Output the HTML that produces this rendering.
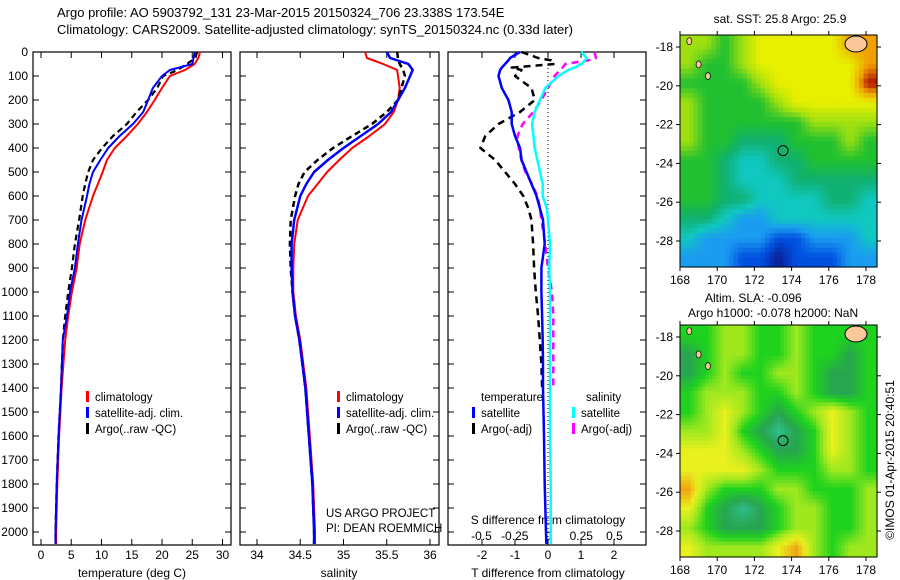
<!DOCTYPE html>
<html><head><meta charset="utf-8"><style>
body{margin:0;background:#fff;}
svg{display:block;font-family:"Liberation Sans",sans-serif;}
text{fill:#000;}
</style></head><body>
<svg id="s" width="900" height="580" viewBox="0 0 900 580" xmlns="http://www.w3.org/2000/svg">
<text x="57" y="17" font-size="13">Argo profile: AO 5903792_131 23-Mar-2015 20150324_706 23.338S 173.54E</text>
<text x="57" y="34" font-size="13">Climatology: CARS2009. Satellite-adjusted climatology: synTS_20150324.nc (0.33d later)</text>
<g id="g"></g>
</svg>
<script>
const depths=[0,25,50,75,100,150,200,250,300,350,400,450,500,550,600,700,800,900,1000,1100,1200,1400,1600,1800,2000,2050];
const tClim=[26.3,26.0,25.4,23.8,21.3,20.0,18.8,17.5,16.0,14.2,12.2,10.9,10.2,9.4,8.6,7.3,6.4,5.9,5.1,4.5,4.0,3.4,3.0,2.7,2.5,2.5];
const tSat=[25.4,25.2,25.0,21.3,20.0,18.5,17.7,16.9,15.2,13.0,11.1,9.8,8.6,8.0,7.6,6.7,6.1,5.6,4.8,4.3,3.6,3.3,2.9,2.6,2.4,2.4];
const tArgo=[25.8,25.5,24.1,22.6,20.2,19.2,17.7,15.8,14.2,11.9,10.1,8.6,7.8,7.3,6.9,6.3,5.6,5.1,4.5,4.0,3.6,3.3,2.9,2.6,2.4,2.4];
const sClim=[35.25,35.27,35.46,35.62,35.63,35.65,35.63,35.58,35.48,35.3,35.1,34.95,34.81,34.7,34.59,34.47,34.43,34.42,34.42,34.45,34.5,34.57,34.61,34.65,34.67,34.67];
const sSat=[35.5,35.54,35.75,35.8,35.77,35.71,35.63,35.55,35.4,35.2,35.0,34.82,34.66,34.57,34.5,34.43,34.4,34.4,34.41,34.44,34.49,34.56,34.6,34.64,34.66,34.66];
const sArgo=[35.62,35.63,35.65,35.69,35.71,35.67,35.63,35.5,35.33,35.1,34.88,34.7,34.55,34.48,34.44,34.39,34.38,34.39,34.41,34.44,34.49,34.56,34.6,34.64,34.66,34.66];
const dDepths=[0,25,35,50,65,75,100,150,200,250,300,350,400,450,500,550,600,650,700,800,900,1000,1100,1200,1300,1400];
const dTSat=[-0.85,-1.15,-1.2,-1.3,-1.4,-1.45,-1.5,-1.4,-1.2,-1.1,-1.1,-1.0,-0.85,-0.8,-0.65,-0.5,-0.35,-0.25,-0.15,-0.1,-0.2,-0.2,-0.18,-0.16,-0.15,-0.15];
const dTArgo=[-0.8,-0.3,0.1,0.2,-1.1,-0.8,-1.0,-0.5,-0.4,-0.85,-1.5,-1.9,-2.05,-1.6,-1.3,-1.0,-0.75,-0.6,-0.5,-0.45,-0.42,-0.37,-0.3,-0.25,-0.2,-0.18];
const dSSat=[0.25,0.29,0.28,0.25,0.2,0.15,0.08,-0.02,-0.06,-0.1,-0.12,-0.11,-0.1,-0.08,-0.06,-0.04,-0.04,-0.01,0,0.015,0.01,0.015,0.015,0.015,0.015,0.015];
const dSArgo=[0.35,0.36,0.3,0.13,0.11,0.09,0.05,0,-0.05,-0.11,-0.19,-0.23,-0.22,-0.2,-0.17,-0.12,-0.08,-0.06,-0.05,-0.02,0,0.03,0.04,0.04,0.04,0.04];
const deepDepths=[1400,1600,1800,2000,2050];
const dTSatDeep=[-0.15,-0.12,-0.1,-0.06,-0.05];
const dSSatDeep=[0.015,0.015,0.02,0.02,0.02];
const depthTicks=[0,100,200,300,400,500,600,700,800,900,1000,1100,1200,1300,1400,1500,1600,1700,1800,1900,2000];
const tTicks=[0,5,10,15,20,25,30];
const sTicks=[34,34.5,35,35.5,36];
const dtTicks=[-2,-1,0,1,2];
const dsTicks=[-0.5,-0.25,0,0.25,0.5];
const sstGrid=[
[6,6,5,6,7,7,7,7,7,8,8],
[6,5,5,6,7,7,7,7,7,7,8],
[5,5,5,5,6,7,7,7,7,7,9],
[6,5,5,5,5,6,7,7,7,7,7],
[6,5,5,5,5,5,5,6,6,6,6],
[6,5,5,4,4,4,5,5,5,6,5],
[5,5,4,3,3,4,4,5,5,5,5],
[5,5,4,3,3,3,4,4,4,4,4],
[5,5,4,4,3,3,3,3,4,4,3],
[4,4,3,2,2,3,3,3,3,3,3],
[3,2,2,2,2,1,1,2,2,2,3],
[2,2,2,1,1,0,1,1,1,2,2]];
const slaGrid=[
[5,5,6,6,5,5,6,5,5,5,5],
[4,5,6,6,5,5,6,5,5,4,5],
[4,5,6,5,5,6,6,5,4,4,5],
[5,6,6,6,5,5,6,5,4,4,5],
[5,6,7,6,5,4,5,6,7,6,5],
[6,6,7,5,4,3,4,5,7,6,5],
[7,7,7,6,5,4,4,5,7,6,5],
[7,7,7,7,6,5,5,5,6,6,5],
[8,6,5,5,5,6,6,5,5,5,6],
[7,5,4,3,4,5,6,6,5,5,6],
[6,5,4,4,4,5,6,6,5,5,6],
[7,6,6,6,6,7,8,6,5,6,6]];
const lonTicks=[168,170,172,174,176,178];
const latTicks=[-18,-20,-22,-24,-26,-28];

const NS="http://www.w3.org/2000/svg";
const G=document.getElementById('g');
function mk(tag,at,parent){const e=document.createElementNS(NS,tag);for(const k in at)e.setAttribute(k,at[k]);(parent||G).appendChild(e);return e;}
function txt(x,y,s,size,anchor){const t=mk('text',{x:x,y:y,'font-size':size||12,'text-anchor':anchor||'start'});t.textContent=s;return t;}
const Y=d=>52+d*0.24;
const TOP=52,BOT=545;
const panels=[{l:33,r:231,x:v=>41+v*6.05,name:'temperature'},{l:240,r:439,x:v=>257+(v-34)*86.5,name:'salinity'},{l:448,r:646,x:v=>548+v*33,name:'tdiff'}];
const xs=v=>548+v*133;

function frame(p){
  const r=mk('rect',{x:p.l,y:TOP,width:p.r-p.l,height:BOT-TOP,fill:'none',stroke:'#000','stroke-width':1.2});
  
  
  depthTicks.forEach(d=>{
    const a=mk('line',{x1:p.l,x2:p.l+6,y1:Y(d),y2:Y(d),stroke:'#000'});
    
    
    const b=mk('line',{x1:p.r-6,x2:p.r,y1:Y(d),y2:Y(d),stroke:'#000'});
    
    
  });
}
panels.forEach(frame);
depthTicks.forEach(d=>{
  const t=txt(28,Y(d)+4,String(d),12,'end');
  
  
});
function xticks(p,ticks,fmt){
  ticks.forEach(v=>{
    const x=p.x(v);
    mk('line',{x1:x,x2:x,y1:TOP,y2:TOP+6,stroke:'#000'});
    mk('line',{x1:x,x2:x,y1:BOT-6,y2:BOT,stroke:'#000'});
    const t=txt(x,559,fmt(v),12,'middle');
    
    
  });
}
xticks(panels[0],tTicks,String);
xticks(panels[1],sTicks,String);
xticks(panels[2],dtTicks,String);
dsTicks.forEach(v=>{
  const t=txt(xs(v),540,String(v),12,'middle');
  
  
});
let t;
t=txt(132,577,'temperature (deg C)',12,'middle');
t=txt(339,577,'salinity',12,'middle');
t=txt(548,577,'T difference from climatology',12,'middle');
t=txt(548,524,'S difference from climatology',12,'middle');
t=txt(326,517,'US ARGO PROJECT',11.5);
t=txt(326,532,'PI: DEAN ROEMMICH',11.5);
mk('line',{x1:548,x2:548,y1:TOP,y2:BOT,stroke:'#000','stroke-dasharray':'1,3'});

function line(xf,vals,ds,color,dash,w,name){
  const pts=vals.map((v,i)=>xf(v).toFixed(1)+','+Y(ds[i]).toFixed(1)).join(' ');
  const a={points:pts,fill:'none',stroke:color,'stroke-width':w,'stroke-linejoin':'round'};
  if(dash)a['stroke-dasharray']=dash;
  const pl=mk('polyline',a);
  
  
}
line(panels[0].x,tClim,depths,'#f00',null,2,'temp-climatology-line');
line(panels[0].x,tArgo,depths,'#000','6,4',2.2,'temp-argo-line');
line(panels[0].x,tSat,depths,'#00f',null,2,'temp-satellite-line');
line(panels[1].x,sClim,depths,'#f00',null,2,'sal-climatology-line');
line(panels[1].x,sArgo,depths,'#000','6,4',2.5,'sal-argo-line');
line(panels[1].x,sSat,depths,'#00f',null,2.5,'sal-satellite-line');
line(panels[2].x,dTArgo,dDepths,'#000','7,5',2.5,'tdiff-argo-line');
line(xs,dSArgo,dDepths,'#f0f','7,5',2.5,'sdiff-argo-line');
line(xs,dSSat,dDepths,'#0ff',null,2.5,'sdiff-satellite-line');
line(xs,dSSatDeep,deepDepths,'#0ff',null,2.5,'sdiff-satellite-deep-line');
line(panels[2].x,dTSat,dDepths,'#00f',null,2.5,'tdiff-satellite-line');
line(panels[2].x,dTSatDeep,deepDepths,'#00f',null,2.5,'tdiff-satellite-deep-line');

function leg(x,y,color,label,name){
  const b=mk('rect',{x:x,y:y-10,width:3,height:11,fill:color});
  
  
  const t=txt(x+9,y,label,11.5);
  
  
}
[[86,'temp'],[337,'sal']].forEach(([x,n])=>{
  leg(x,401,'#f00','climatology',n+'-legend-climatology');
  leg(x,417,'#00f','satellite-adj. clim.',n+'-legend-satellite');
  leg(x,433,'#000','Argo(..raw -QC)',n+'-legend-argo');
});
t=txt(481,401,'temperature',11.5);
t=txt(586,401,'salinity',11.5);
leg(472,417,'#00f','satellite','tdiff-legend-satellite');
leg(472,433,'#000','Argo(-adj)','tdiff-legend-argo');
leg(572,417,'#0ff','satellite','sdiff-legend-satellite');
leg(572,433,'#f0f','Argo(-adj)','sdiff-legend-argo');

// maps
const sstPal=[[10,30,150],[0,80,224],[26,156,240],[16,200,192],[16,176,112],[32,192,48],[160,224,16],[232,240,0],[240,160,0],[176,16,0]];
const slaPal=[[16,200,192],[16,200,192],[16,200,192],[48,190,140],[40,165,80],[30,210,30],[160,232,30],[232,240,30],[240,165,20],[176,16,0]];
function col(pal,v){const i=Math.max(0,Math.min(pal.length-2,Math.floor(v)));const f=Math.min(1,v-i);const a=pal[i],b=pal[i+1];return 'rgb('+a.map((c,k)=>Math.round(c+(b[k]-c)*f)).join(',')+')';}
function map(grid,pal,y0,name,smooth){
  const L=680,R=877,T=y0-12,B=y0+220;
  const g=mk('g',{});
  
  
  const rows=grid.length,cols=grid[0].length,sub=smooth?5:4;
  const cw=(R-L)/(cols*sub),ch=(B-T)/(rows*sub);
  for(let r=0;r<rows*sub;r++)for(let c=0;c<cols*sub;c++){
    const fr=Math.max(0,Math.min(rows-1,(r+0.5)/sub-0.5)),fc=Math.max(0,Math.min(cols-1,(c+0.5)/sub-0.5));
    const r0=Math.floor(fr),c0=Math.floor(fc),r1=Math.min(rows-1,r0+1),c1=Math.min(cols-1,c0+1);
    const a=fr-r0,b=fc-c0;
    const v=grid[r0][c0]*(1-a)*(1-b)+grid[r0][c1]*(1-a)*b+grid[r1][c0]*a*(1-b)+grid[r1][c1]*a*b;
    mk('rect',{x:(L+c*cw).toFixed(2),y:(T+r*ch).toFixed(2),width:(cw+0.6).toFixed(2),height:(ch+0.6).toFixed(2),fill:col(pal,v)},g);
  }
  const lx=l=>680+(l-168)*18.6,ly=l=>y0+(-18-l)*19.4;
  mk('ellipse',{cx:856,cy:T+9,rx:11,ry:8,fill:'#fac898',stroke:'#000'},g);
  [[169,-18.9],[169.5,-19.5],[168.5,-17.7]].forEach(([lo,la])=>mk('ellipse',{cx:lx(lo),cy:ly(la),rx:2.5,ry:3.5,fill:'#fac898',stroke:'#000','stroke-width':0.7},g));
  const c=mk('circle',{cx:lx(173.54),cy:ly(-23.34),r:5,fill:'none',stroke:'#000'},g);
  
  
  mk('rect',{x:L,y:T,width:R-L,height:B-T,fill:'none',stroke:'#000'},g);
  lonTicks.forEach(l=>{mk('line',{x1:lx(l),x2:lx(l),y1:T,y2:T-4,stroke:'#000'},g);mk('line',{x1:lx(l),x2:lx(l),y1:B,y2:B+4,stroke:'#000'},g);
    const t=txt(lx(l),B+17,String(l),12,'middle');});
  latTicks.forEach(l=>{mk('line',{x1:L-4,x2:L,y1:ly(l),y2:ly(l),stroke:'#000'},g);mk('line',{x1:R,x2:R+4,y1:ly(l),y2:ly(l),stroke:'#000'},g);
    const t=txt(L-7,ly(l)+4,String(l),12,'end');});
}
map(sstGrid,sstPal,47,'sst-map',false);
map(slaGrid,slaPal,337,'sla-map',true);
t=txt(780,23,'sat. SST: 25.8 Argo: 25.9',12,'middle');
t=txt(705,302,'Altim. SLA: -0.096',12);
t=txt(688,317,'Argo h1000: -0.078 h2000: NaN',12);
t=txt(0,0,'\u00a9IMOS 01-Apr-2015 20:40:51',12,'middle');t.setAttribute('transform','translate(894,460) rotate(-90)');
</script>
</body></html>
